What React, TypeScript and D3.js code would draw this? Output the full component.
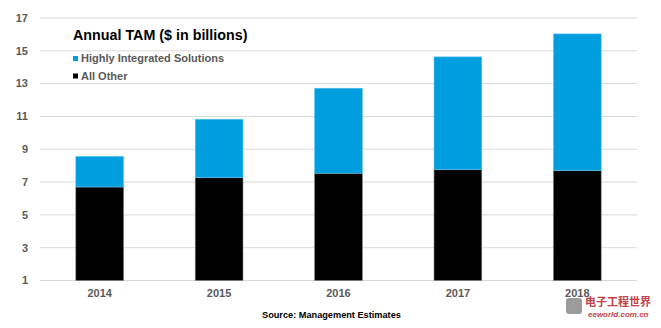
import React from "react";
import * as d3 from "d3";

const categories = ["2014", "2015", "2016", "2017", "2018"];
const allOther = [6.7, 7.27, 7.54, 7.76, 7.7];
const highlyIntegrated = [1.87, 3.56, 5.18, 6.87, 8.33];
const yTicks = [1, 3, 5, 7, 9, 11, 13, 15, 17];
const seriesNames = ["Highly Integrated Solutions", "All Other"];
const title = "Annual TAM ($ in billions)";
const source = "Source: Management Estimates";

const W = 661;
const H = 328;
const BLUE = "#009ddf";
const FONT = "'Liberation Sans', Arial, sans-serif";

export default function App() {
  const x = d3.scaleBand<string>().domain(categories).range([40, 637]).paddingInner(0.6).paddingOuter(0.3);
  const y = d3.scaleLinear().domain([1, 17]).range([280.5, 18]);

  return (
    <svg width={W} height={H} style={{ position: "absolute", left: 0, top: 0, background: "#fff" }} fontFamily={FONT}>
      {yTicks.map((t) => (
        <g key={t}>
          <line x1={40} x2={637} y1={y(t)} y2={y(t)} stroke="#d9d9d9" strokeWidth={1} />
          <text x={28} y={y(t)} dy="0.35em" textAnchor="end" fontSize={11} fontWeight="bold" fill="#595959">
            {t}
          </text>
        </g>
      ))}
      {categories.map((c, i) => {
        const bx = x(c)!;
        const bw = x.bandwidth();
        const bottom = allOther[i];
        const top = allOther[i] + highlyIntegrated[i];
        return (
          <g key={c}>
            <rect x={bx} y={y(bottom)} width={bw} height={y(1) - y(bottom)} fill="#000" stroke="#7f7f7f" strokeWidth={0.6} />
            <rect x={bx} y={y(top)} width={bw} height={y(bottom) - y(top)} fill={BLUE} stroke="#5cc6f0" strokeWidth={0.6} />
            <text x={bx + bw / 2} y={297} textAnchor="middle" fontSize={11} fontWeight="bold" fill="#595959">
              {c}
            </text>
          </g>
        );
      })}
      <text x={73} y={40} fontSize={14.3} fontWeight="bold" fill="#000">
        {title}
      </text>
      <rect x={73} y={56} width={5} height={5} fill={BLUE} />
      <text x={81} y={58.5} dy="0.35em" fontSize={11} fontWeight="bold" fill="#595959">
        {seriesNames[0]}
      </text>
      <rect x={73} y={73.5} width={5} height={5} fill="#000" />
      <text x={81} y={76} dy="0.35em" fontSize={11} fontWeight="bold" fill="#595959">
        {seriesNames[1]}
      </text>
      <text x={262} y={318} fontSize={9.2} fontWeight="bold" fill="#000">
        {source}
      </text>
      <g opacity={0.85}>
        <rect x={566} y={298} width={16} height={16} rx={3} fill="#8a8a8a" />
        <text x={585} y={306} fontSize={11} fontWeight="bold" fill="#b5212a" fontFamily="'Noto Sans CJK SC', sans-serif">
          电子工程世界
        </text>
        <text x={588} y={317} fontSize={8} fontStyle="italic" fontWeight="bold" fill="#b5212a">
          eeworld.com.cn
        </text>
      </g>
    </svg>
  );
}
